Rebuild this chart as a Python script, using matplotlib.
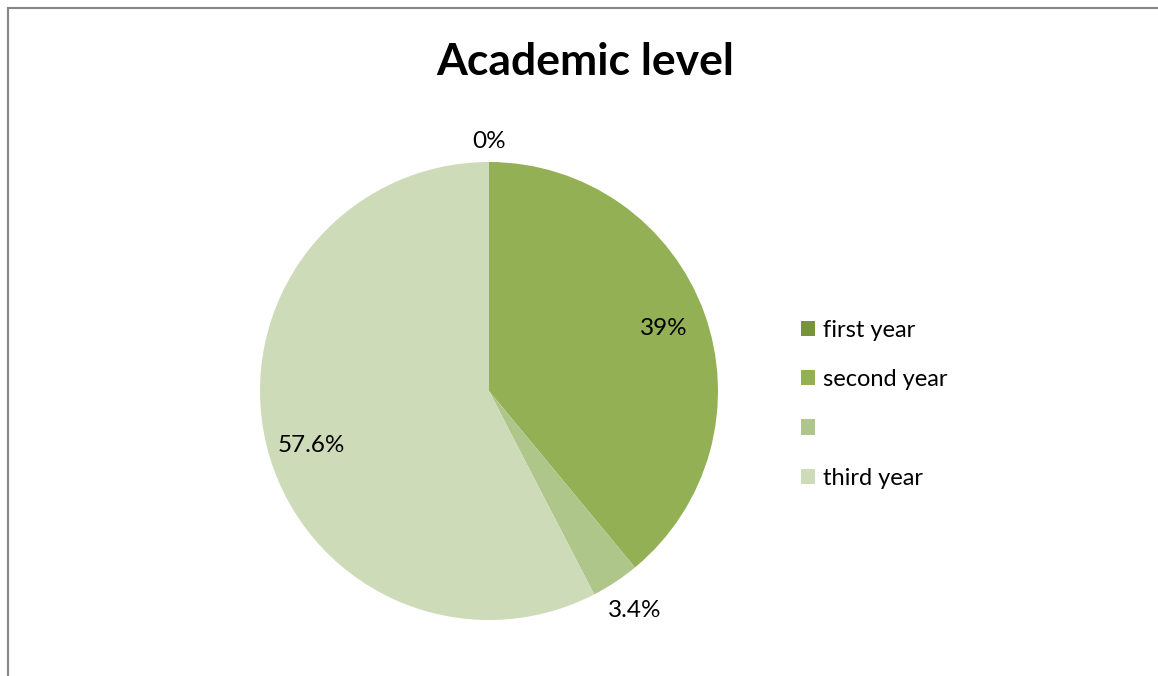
import numpy as np
import matplotlib
matplotlib.use("Agg")
import matplotlib.pyplot as plt
from matplotlib.lines import Line2D

# Academic level breakdown (percent of respondents)
categories = ["first year", "second year", "", "third year"]
shares = [0, 39, 3.4, 57.6]
colors = ["#77933C", "#93B055", "#AFC68A", "#CEDBB9"]

plt.rcParams['font.family'] = ['Lato', 'DejaVu Sans']

fig = plt.figure(figsize=(11.58, 6.76), dpi=100)
W, H = 1158, 676

# pie area: center (489, 391) px, radius 229 px
cx, cy, r = 489, 391, 229
ax = fig.add_axes([(cx - r) / W, (H - cy - r) / H, 2 * r / W, 2 * r / H])

wedges, _ = ax.pie(shares, colors=colors, startangle=90, counterclock=False,
                   radius=1, wedgeprops=dict(linewidth=0))
ax.set_xlim(-1, 1)
ax.set_ylim(-1, 1)
ax.set_aspect("equal")
ax.axis("off")

# percent labels: inside for big slices, just outside for thin ones
for w, v in zip(wedges, shares):
    mid = np.deg2rad((w.theta1 + w.theta2) / 2)
    dist = 0.81 if v > 10 else (1.09 if v == 0 else 1.15)
    if v > 50:
        mid += np.deg2rad(3.5)
    ax.text(dist * np.cos(mid), dist * np.sin(mid), f"{v:g}%",
            ha="center", va="center", fontsize=17.5, color="black", clip_on=False)

fig.text(585 / W, 1 - 62 / H, "Academic level", ha="center", va="center",
         fontsize=32, fontweight="bold")

leg = fig.legend(wedges, categories, loc="center left",
                 bbox_to_anchor=(789 / W, 1 - 404 / H), frameon=False,
                 fontsize=17, handlelength=0.62, handleheight=0.62,
                 handletextpad=0.3, labelspacing=1.2, borderpad=0)

# chart frame (only top and left edges fall inside the image)
fig.add_artist(Line2D([8 / W, 8 / W], [0, 1 - 8 / H], transform=fig.transFigure,
                      color="#868686", linewidth=1.5))
fig.add_artist(Line2D([8 / W, 1], [1 - 8 / H, 1 - 8 / H], transform=fig.transFigure,
                      color="#868686", linewidth=1.5))

fig.savefig("out.png", dpi=100, facecolor="white")
